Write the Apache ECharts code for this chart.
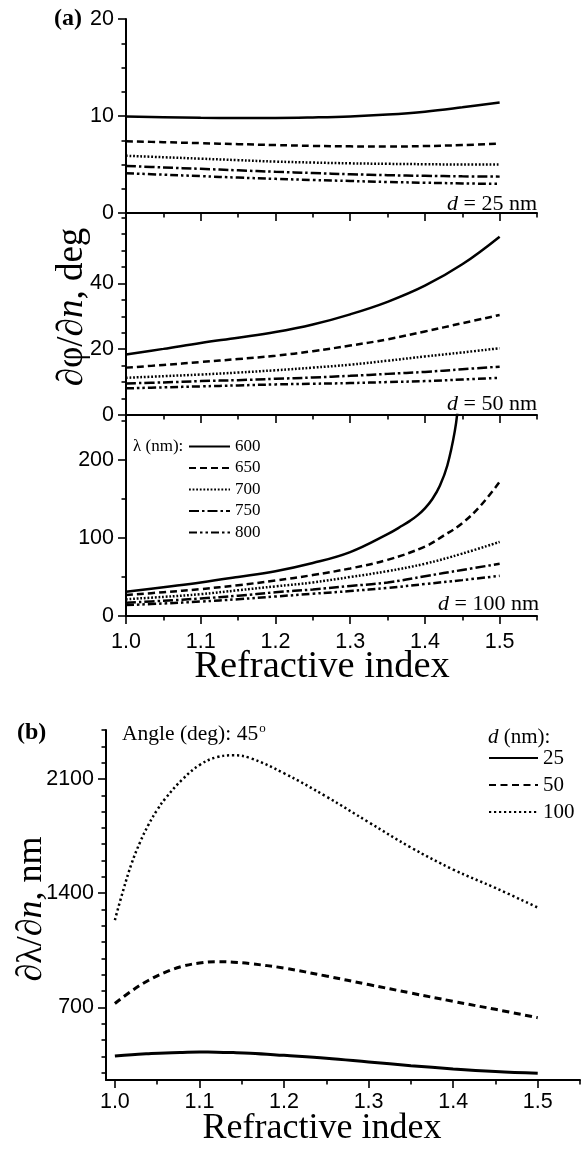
<!DOCTYPE html>
<html><head><meta charset="utf-8">
<script src="https://cdn.jsdelivr.net/npm/echarts@6/dist/echarts.min.js"></script>
<style>html,body{margin:0;padding:0;background:#fff}#c{width:587px;height:1151px}</style>
</head><body><div id="c"></div>
<script>
// ---------- data (panel a) ----------
const nA = [1.0,1.05,1.1,1.15,1.2,1.25,1.3,1.35,1.4,1.45,1.5];
const d25_600 = [9.95,9.88,9.82,9.8,9.8,9.85,9.95,10.15,10.45,10.9,11.4];
const d25_650 = [7.4,7.3,7.2,7.1,7.0,6.92,6.87,6.85,6.9,7.0,7.15];
const d25_700 = [5.9,5.75,5.6,5.45,5.3,5.2,5.12,5.07,5.03,5.0,5.0];
const d25_750 = [4.85,4.7,4.55,4.4,4.25,4.12,4.0,3.9,3.83,3.78,3.75];
const d25_800 = [4.1,3.95,3.8,3.65,3.52,3.4,3.3,3.2,3.12,3.05,3.0];
const d50_600 = [18.4,20.1,21.9,23.5,25.2,27.5,30.6,34.4,39.3,45.8,54.2];
const d50_650 = [14.4,15.2,16.1,17.0,18.0,19.4,21.1,23.0,25.4,27.9,30.4];
const d50_700 = [11.3,11.8,12.3,12.9,13.6,14.4,15.3,16.5,17.8,19.0,20.3];
const d50_750 = [9.6,9.9,10.3,10.6,11.0,11.4,11.9,12.5,13.1,13.9,14.7];
const d50_800 = [8.1,8.4,8.7,9.0,9.3,9.5,9.7,10.0,10.3,10.8,11.3];
const nA100_600 = [1.0,1.05,1.1,1.15,1.2,1.25,1.3,1.35,1.37,1.38,1.39,1.4,1.41,1.42,1.43,1.44,1.445];
const d100_600 = [31,37,43,50,57.5,68,82,105,116,122,129,138,150,167,193,237,275];
const nA100_650 = [1.0,1.05,1.1,1.15,1.2,1.25,1.3,1.35,1.4,1.425,1.45,1.475,1.5];
const d100_650 = [27,30.5,34.5,39.5,45.5,52.5,61,72,89,103,119,142,172];
const d100_700 = [21.5,24.5,28,33,38,43,50,57.5,67,80,95];
const d100_750 = [17,19.5,22.5,26,30.5,34,38.5,43,51,59,67];
const d100_800 = [14,16,18.5,21.5,25,28.5,32,36,41,46,51.5];
const lambdas = ['600','650','700','750','800'];

// ---------- data (panel b) ----------
const nB = [1.0,1.02,1.04,1.06,1.08,1.1,1.12,1.14,1.16,1.2,1.25,1.3,1.35,1.4,1.45,1.5];
const b25 = [402,410,416,421,424,426,425.5,423,419,406,389,366,343,323,307,296];
const b50 = [724,802,866,916,952,972,980,977,968,941,892,840,788,737,688,637];
const nB100 = [1.0,1.01,1.02,1.03,1.04,1.05,1.06,1.08,1.1,1.12,1.14,1.16,1.2,1.25,1.3,1.35,1.4,1.45,1.5];
const b100 = [1235,1420,1585,1715,1822,1910,1982,2098,2185,2233,2245,2228,2135,1992,1835,1680,1545,1432,1312];
const thick = ['25','50','100'];

// ---------- tick values ----------
const xMajor = [1.0,1.1,1.2,1.3,1.4,1.5];
const xMinor = [1.05,1.15,1.25,1.35,1.45,1.55];
const yTopMajor = [0,10,20], yTopMinor = [2.5,5,7.5,12.5,15,17.5];
const yMidMajor = [0,20,40], yMidMinor = [5,10,15,25,30,35,45,50,55,60];
const yBotMajor = [0,100,200], yBotMinor = [50,150,250];
const yBMajor = [700,1400,2100], yBMinor = [300,400,500,600,800,900,1000,1100,1200,1300,1500,1600,1700,1800,1900,2000,2200,2300,2400];

const SERIF = 'Liberation Serif', SANS = 'Liberation Sans';
const zip = (xs, ys) => xs.map((x, i) => [x, ys[i]]);

const styA = {
  '600': {width: 2.5, type: 'solid'},
  '650': {width: 2.5, type: [7, 4]},
  '700': {width: 2.5, type: [1.8, 1.8]},
  '750': {width: 2.5, type: [10, 3, 2.5, 3]},
  '800': {width: 2.5, type: [8, 3, 2.5, 3, 2.5, 3]}
};
const styB = {
  '25': {width: 3, type: 'solid'},
  '50': {width: 3, type: [7, 4.5]},
  '100': {width: 2.5, type: [2.2, 2.8]}
};

const grids = [
  {left: 126, top: 19, width: 411, height: 194},
  {left: 126, top: 213, width: 411, height: 202},
  {left: 126, top: 415, width: 411, height: 201},
  {left: 106, top: 730, width: 474, height: 350}
];
const xRanges = [[1.0,1.55],[1.0,1.55],[1.0,1.55],[0.9895,1.55]];
const yRanges = [[0,20],[0,61.4],[0,257.7],[255,2400]];
const yMaj = [yTopMajor, yMidMajor, yBotMajor, yBMajor];
const yMin = [yTopMinor, yMidMinor, yBotMinor, yBMinor];
const xLabelShow = [false, false, true, true];
const xLabelMargin = [15, 15, 15, 11];

const xAxis = [], yAxis = [];
for (let g = 0; g < 4; g++) {
  xAxis.push({
    type: 'value', gridIndex: g, min: xRanges[g][0], max: xRanges[g][1], position: 'bottom',
    axisLine: {show: true, onZero: false, lineStyle: {color: '#000', width: 2}},
    axisTick: {show: true, inside: false, length: 8, customValues: xMajor, lineStyle: {color: '#000', width: 1.6}},
    axisLabel: {show: xLabelShow[g], customValues: xMajor, margin: xLabelMargin[g], color: '#000',
      fontFamily: SANS, fontSize: 21.5, formatter: v => Number(v).toFixed(1)},
    splitLine: {show: false}
  });
  yAxis.push({
    type: 'value', gridIndex: g, min: yRanges[g][0], max: yRanges[g][1], position: 'left',
    axisLine: {show: true, onZero: false, lineStyle: {color: '#000', width: 2}},
    axisTick: {show: true, inside: false, length: 8, customValues: yMaj[g], lineStyle: {color: '#000', width: 1.6}},
    axisLabel: {show: true, customValues: yMaj[g], margin: 12, color: '#000', fontFamily: SANS, fontSize: 21.5,
      formatter: v => String(Math.round(v))},
    splitLine: {show: false}
  });
}
for (let g = 0; g < 4; g++) {
  xAxis.push({
    type: 'value', gridIndex: g, min: xRanges[g][0], max: xRanges[g][1], position: 'bottom',
    axisLine: {show: false, onZero: false},
    axisTick: {show: true, inside: false, length: 4.5, customValues: xMinor, lineStyle: {color: '#000', width: 1.6}},
    axisLabel: {show: false}, splitLine: {show: false}
  });
  yAxis.push({
    type: 'value', gridIndex: g, min: yRanges[g][0], max: yRanges[g][1], position: 'left',
    axisLine: {show: false, onZero: false},
    axisTick: {show: true, inside: false, length: 4.5, customValues: yMin[g], lineStyle: {color: '#000', width: 1.6}},
    axisLabel: {show: false}, splitLine: {show: false}
  });
}

const series = [];
function addA(g, name, xs, ys) {
  series.push({
    type: 'line', name: name, xAxisIndex: g, yAxisIndex: g, data: zip(xs, ys),
    symbol: 'none', smooth: 0.4, clip: true,
    lineStyle: {color: '#000', width: styA[name].width, type: styA[name].type, cap: 'butt'},
    itemStyle: {color: '#000'}
  });
}
addA(0, '600', nA, d25_600); addA(0, '650', nA, d25_650); addA(0, '700', nA, d25_700);
addA(0, '750', nA, d25_750); addA(0, '800', nA, d25_800);
addA(1, '600', nA, d50_600); addA(1, '650', nA, d50_650); addA(1, '700', nA, d50_700);
addA(1, '750', nA, d50_750); addA(1, '800', nA, d50_800);
addA(2, '600', nA100_600, d100_600); addA(2, '650', nA100_650, d100_650); addA(2, '700', nA, d100_700);
addA(2, '750', nA, d100_750); addA(2, '800', nA, d100_800);
function addB(name, xs, ys) {
  series.push({
    type: 'line', name: name, xAxisIndex: 3, yAxisIndex: 3, data: zip(xs, ys),
    symbol: 'none', smooth: 0.4,
    lineStyle: {color: '#000', width: styB[name].width, type: styB[name].type, cap: 'butt'},
    itemStyle: {color: '#000'}
  });
}
addB('25', nB, b25); addB('50', nB, b50); addB('100', nB100, b100);

function txt(x, y, text, size, opts) {
  opts = opts || {};
  const st = {
    text: text, x: 0, y: 0, fill: '#000',
    fontFamily: opts.family || SERIF, fontSize: size, fontWeight: opts.weight || 'normal',
    align: opts.align || 'left', textAlign: opts.align || 'left',
    verticalAlign: 'middle', textVerticalAlign: 'middle'
  };
  if (opts.rich) st.rich = opts.rich;
  return {type: 'text', x: x, y: y, rotation: opts.rotation || 0, silent: true, style: st, z: 100};
}
const richIt = size => ({
  i: {fontFamily: SERIF, fontSize: size, fontStyle: 'italic', fill: '#000'},
  r: {fontFamily: SERIF, fontSize: size, fill: '#000'}
});

const graphic = [
  txt(54, 19, '(a)', 24, {weight: 'bold'}),
  txt(17, 733, '(b)', 24, {weight: 'bold'}),
  txt(537, 204, '{i|d}{r| = 25 nm}', 22, {align: 'right', rich: richIt(22)}),
  txt(537, 404, '{i|d}{r| = 50 nm}', 22, {align: 'right', rich: richIt(22)}),
  txt(539, 604, '{i|d}{r| = 100 nm}', 22, {align: 'right', rich: richIt(22)}),
  txt(133, 447, 'λ (nm):', 17),
  txt(122, 734, '{r|Angle (deg): 45}{s|o}', 21.5, {rich: {
    r: {fontFamily: SERIF, fontSize: 21.5, fill: '#000', lineHeight: 24},
    s: {fontFamily: SERIF, fontSize: 13, fill: '#000', lineHeight: 13, verticalAlign: 'top', padding: [0, 0, 0, 1]}
  }}),
  txt(488, 737, '{i|d}{r| (nm):}', 21, {rich: richIt(21)}),
  txt(72, 307, '{r|∂φ/∂}{i|n}{r|, deg}', 37, {align: 'center', rotation: Math.PI / 2, rich: richIt(37)}),
  txt(32, 909, '{r|∂λ/∂}{i|n}{r|, nm}', 36, {align: 'center', rotation: Math.PI / 2, rich: richIt(36)}),
  txt(322, 667, 'Refractive index', 38.5, {align: 'center'}),
  txt(322, 1129, 'Refractive index', 36, {align: 'center'})
];

const legend = [
  {data: lambdas, orient: 'vertical', left: 188, top: 438, padding: 0, itemWidth: 41, itemHeight: 14, itemGap: 4.5,
   itemStyle: {opacity: 0}, selectedMode: false,
   textStyle: {fontFamily: SERIF, fontSize: 17, color: '#000', lineHeight: 17}},
  {data: thick, orient: 'vertical', left: 488, top: 747.5, padding: 0, itemWidth: 49, itemHeight: 14, itemGap: 6,
   itemStyle: {opacity: 0}, selectedMode: false,
   textStyle: {fontFamily: SERIF, fontSize: 21, color: '#000', lineHeight: 21}}
];

const chart = echarts.init(document.getElementById('c'), null, {renderer: 'canvas'});
chart.setOption({
  animation: false, backgroundColor: '#fff',
  grid: grids, xAxis: xAxis, yAxis: yAxis, series: series, legend: legend, graphic: graphic
});
</script></body></html>
